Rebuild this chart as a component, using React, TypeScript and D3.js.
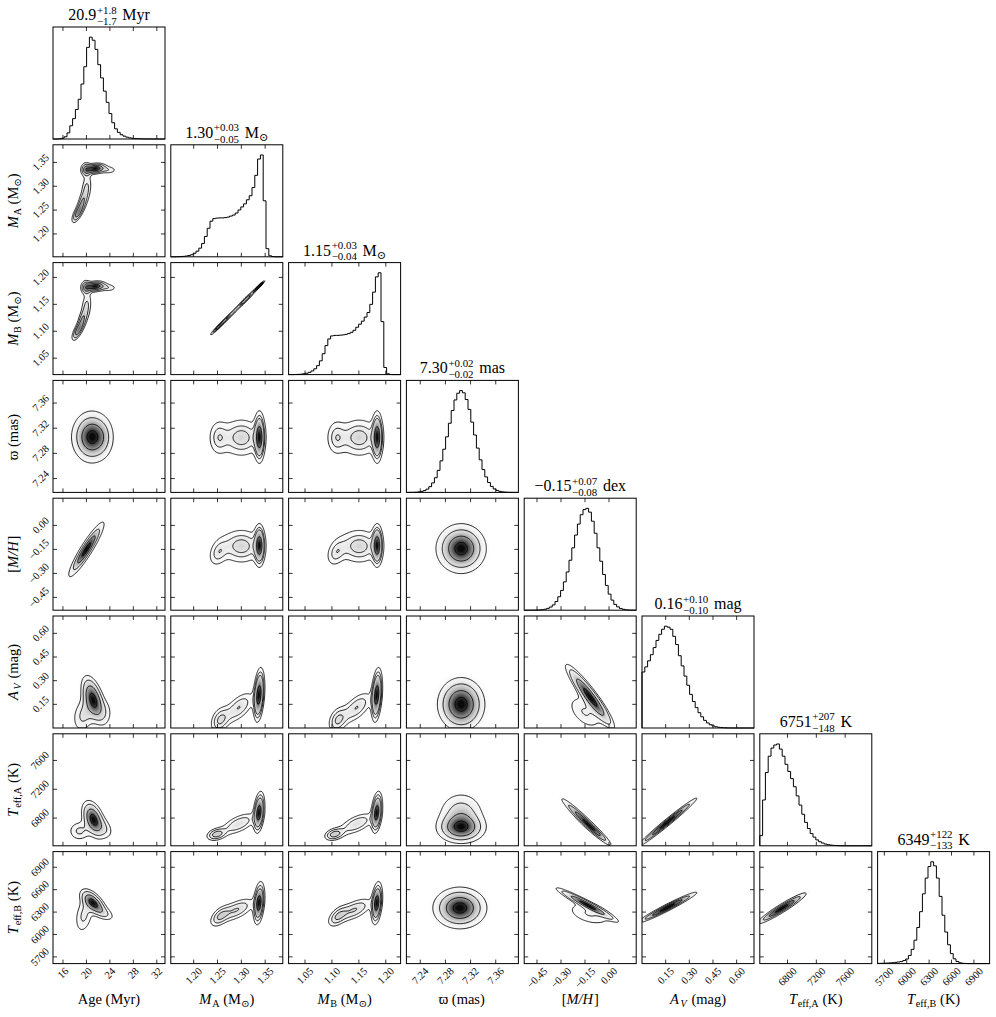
import React, { useMemo } from "react";
import * as d3 from "d3";

// ---------------- data ----------------
// parameter order: Age, M_A, M_B, parallax, [M/H], A_V, Teff_A, Teff_B
const paramRanges: [number, number][] = [
  [14.3, 33.4],
  [1.152, 1.387],
  [1.0195, 1.2275],
  [7.218, 7.396],
  [-0.53, 0.17],
  [0.0, 0.71],
  [6415, 7970],
  [5610, 7110],
];
const paramTicks: number[][] = [
  [16, 20, 24, 28, 32],
  [1.2, 1.25, 1.3, 1.35],
  [1.05, 1.1, 1.15, 1.2],
  [7.24, 7.28, 7.32, 7.36],
  [-0.45, -0.3, -0.15, 0.0],
  [0.15, 0.3, 0.45, 0.6],
  [6800, 7200, 7600],
  [5700, 6000, 6300, 6600, 6900],
];
const tickDecimals = [0, 2, 2, 2, 2, 2, 0, 0];

const histAge = [0, 0, 0.002, 0.008, 0.022, 0.06, 0.13, 0.2, 0.29, 0.39, 0.54, 0.71, 0.9, 1.0, 0.97, 0.88, 0.73, 0.6, 0.47, 0.36, 0.25, 0.16, 0.1, 0.065, 0.042, 0.028, 0.018, 0.011, 0.007, 0.004, 0.003, 0.002, 0.001, 0.001, 0.0005, 0.0003, 0.0002, 0.0001, 0, 0];
const histMA = [0, 0, 0.001, 0.002, 0.004, 0.007, 0.012, 0.02, 0.035, 0.055, 0.085, 0.13, 0.2, 0.28, 0.35, 0.375, 0.38, 0.382, 0.382, 0.385, 0.39, 0.4, 0.41, 0.43, 0.46, 0.49, 0.52, 0.56, 0.6, 0.68, 0.8, 0.96, 1.0, 0.55, 0.08, 0.01, 0.002, 0, 0, 0];
const histMB = [0, 0, 0.001, 0.002, 0.004, 0.008, 0.013, 0.022, 0.036, 0.057, 0.088, 0.135, 0.205, 0.285, 0.35, 0.38, 0.385, 0.385, 0.387, 0.39, 0.395, 0.403, 0.415, 0.435, 0.465, 0.495, 0.525, 0.565, 0.61, 0.69, 0.81, 0.96, 1.0, 0.52, 0.07, 0.008, 0.001, 0, 0, 0];
const histPlx = [0.0002, 0.0005, 0.001, 0.002, 0.005, 0.01, 0.018, 0.032, 0.056, 0.093, 0.144, 0.216, 0.31, 0.424, 0.546, 0.679, 0.804, 0.908, 0.974, 1.0, 0.978, 0.912, 0.815, 0.69, 0.564, 0.435, 0.32, 0.224, 0.152, 0.097, 0.059, 0.034, 0.019, 0.01, 0.005, 0.0024, 0.001, 0.0005, 0.0002, 0.0001];
const histMH = [0, 0.0001, 0.0003, 0.0006, 0.0012, 0.0025, 0.005, 0.0095, 0.018, 0.031, 0.052, 0.085, 0.132, 0.194, 0.278, 0.375, 0.49, 0.612, 0.737, 0.845, 0.937, 0.987, 0.999, 0.962, 0.873, 0.755, 0.612, 0.48, 0.35, 0.243, 0.158, 0.099, 0.057, 0.033, 0.017, 0.0087, 0.004, 0.0018, 0.0008, 0.0003];
const histAV = [0.55, 0.6, 0.66, 0.72, 0.79, 0.86, 0.92, 0.97, 1.0, 0.99, 0.97, 0.9, 0.82, 0.71, 0.61, 0.51, 0.42, 0.33, 0.26, 0.2, 0.15, 0.11, 0.075, 0.05, 0.032, 0.02, 0.012, 0.007, 0.004, 0.002, 0.001, 0.0005, 0.0002, 0, 0, 0, 0, 0, 0, 0];
const histTeffA = [0.1, 0.45, 0.72, 0.88, 0.96, 0.99, 1.0, 0.95, 0.88, 0.8, 0.73, 0.66, 0.58, 0.49, 0.4, 0.31, 0.23, 0.17, 0.12, 0.085, 0.058, 0.04, 0.027, 0.017, 0.011, 0.007, 0.004, 0.002, 0.001, 0, 0, 0, 0, 0, 0, 0, 0, 0, 0, 0];
const histTeffB = [0.002, 0.003, 0.004, 0.005, 0.007, 0.009, 0.012, 0.016, 0.02, 0.03, 0.045, 0.08, 0.14, 0.23, 0.355, 0.51, 0.685, 0.84, 0.953, 1.0, 0.96, 0.84, 0.66, 0.475, 0.31, 0.185, 0.098, 0.047, 0.021, 0.008, 0.003, 0.001, 0, 0, 0, 0, 0, 0, 0, 0];
const histograms = [histAge, histMA, histMB, histPlx, histMH, histAV, histTeffA, histTeffB];

// 2D density components: [x centre, y centre, x spread, y spread, correlation, weight]
const blobsMA_Age = [[21.5, 1.337, 1.0, 0.006, 0.2, 1.0], [23.8, 1.334, 0.9, 0.005, 0, 0.25], [19.9, 1.335, 0.5, 0.009, 0, 0.5], [20.0, 1.295, 0.55, 0.018, 0.3, 0.35], [18.6, 1.245, 0.6, 0.012, 0.7, 0.7], [19.3, 1.268, 0.5, 0.012, 0.5, 0.4]];
const blobsMB_Age = [[21.5, 1.1832, 1.0, 0.0053, 0.2, 1.0], [23.8, 1.1806, 0.9, 0.0044, 0, 0.25], [19.9, 1.1815, 0.5, 0.008, 0, 0.5], [20.0, 1.1461, 0.55, 0.016, 0.3, 0.35], [18.6, 1.1018, 0.6, 0.0106, 0.7, 0.7], [19.3, 1.1222, 0.5, 0.0106, 0.5, 0.4]];
const blobsMB_MA = [[1.338, 1.1841, 0.006, 0.0053, 0.97, 1.0], [1.31, 1.1594, 0.015, 0.0133, 0.975, 0.5], [1.27, 1.124, 0.015, 0.0133, 0.975, 0.4], [1.25, 1.1063, 0.01, 0.0089, 0.97, 0.4]];
const blobsPlx_Age = [[20.9, 7.306, 1.75, 0.021, 0, 1.0], [23.0, 7.305, 1.0, 0.018, 0, 0.12]];
const blobsPlx_MA = [[1.338, 7.306, 0.006, 0.02, 0, 1.0], [1.3, 7.305, 0.025, 0.017, 0, 0.45], [1.252, 7.305, 0.012, 0.016, 0, 0.3]];
const blobsPlx_MB = [[1.1841, 7.306, 0.0053, 0.02, 0, 1.0], [1.1505, 7.305, 0.0221, 0.017, 0, 0.45], [1.108, 7.305, 0.0106, 0.016, 0, 0.3]];
const blobsMH_Age = [[20.0, -0.15, 1.5, 0.085, 0.92, 1.0]];
const blobsMH_MA = [[1.338, -0.125, 0.006, 0.065, 0, 1.0], [1.3, -0.13, 0.025, 0.06, 0, 0.45], [1.252, -0.17, 0.012, 0.05, 0.3, 0.3]];
const blobsMH_MB = [[1.1841, -0.125, 0.0053, 0.065, 0, 1.0], [1.1505, -0.13, 0.0221, 0.06, 0, 0.45], [1.108, -0.17, 0.0106, 0.05, 0.3, 0.3]];
const blobsMH_Plx = [[7.305, -0.145, 0.02, 0.078, 0, 1.0]];
const blobsAV_Age = [[21.2, 0.18, 1.1, 0.08, -0.5, 1.0], [19.5, 0.08, 1.2, 0.07, 0.2, 0.35], [23.5, 0.1, 0.8, 0.06, 0, 0.15]];
const blobsAV_MA = [[1.337, 0.21, 0.006, 0.085, 0.3, 1.0], [1.295, 0.13, 0.02, 0.06, 0.6, 0.35], [1.255, 0.05, 0.012, 0.05, 0.3, 0.35]];
const blobsAV_MB = [[1.1832, 0.21, 0.0053, 0.085, 0.3, 1.0], [1.1461, 0.13, 0.0177, 0.06, 0.6, 0.35], [1.1107, 0.05, 0.0106, 0.05, 0.3, 0.35]];
const blobsAV_Plx = [[7.305, 0.15, 0.02, 0.09, 0, 1.0]];
const blobsAV_MH = [[-0.12, 0.2, 0.075, 0.1, -0.93, 1.0], [-0.15, 0.1, 0.07, 0.07, -0.5, 0.25]];
const blobsTA_Age = [[21.2, 6780, 1.0, 130, -0.4, 1.0], [18.8, 6620, 1.1, 80, 0, 0.3], [23.2, 6650, 0.9, 90, -0.3, 0.2]];
const blobsTA_MA = [[1.337, 6880, 0.006, 140, 0.3, 1.0], [1.295, 6720, 0.022, 90, 0.6, 0.35], [1.248, 6575, 0.012, 50, 0.3, 0.45]];
const blobsTA_MB = [[1.1832, 6880, 0.0053, 140, 0.3, 1.0], [1.1461, 6720, 0.0195, 90, 0.6, 0.35], [1.1045, 6575, 0.0106, 50, 0.3, 0.45]];
const blobsTA_Plx = [[7.305, 6660, 0.02, 110, 0, 1.0], [7.305, 6880, 0.02, 160, 0, 0.5]];
const blobsTA_MH = [[-0.15, 6760, 0.08, 170, -0.97, 1.0], [-0.1, 6640, 0.06, 110, -0.95, 0.4]];
const blobsTA_AV = [[0.16, 6740, 0.1, 180, 0.985, 1.0]];
const blobsTB_Age = [[21.2, 6420, 1.1, 90, -0.6, 1.0], [19.6, 6260, 0.9, 140, 0.3, 0.3], [23.2, 6280, 1.0, 60, -0.5, 0.2]];
const blobsTB_MA = [[1.337, 6420, 0.006, 140, 0.3, 1.0], [1.29, 6330, 0.022, 90, 0.6, 0.4], [1.255, 6240, 0.012, 80, 0.5, 0.35]];
const blobsTB_MB = [[1.1832, 6420, 0.0053, 140, 0.3, 1.0], [1.1417, 6330, 0.0195, 90, 0.6, 0.4], [1.1107, 6240, 0.0106, 80, 0.5, 0.35]];
const blobsTB_Plx = [[7.303, 6355, 0.0215, 140, 0, 1.0]];
const blobsTB_MH = [[-0.14, 6400, 0.085, 100, -0.96, 1.0], [-0.12, 6280, 0.08, 90, -0.4, 0.2]];
const blobsTB_AV = [[0.16, 6360, 0.1, 110, 0.97, 1.0]];
const blobsTB_TA = [[6720, 6350, 180, 110, 0.95, 1.0]];

const panelBlobs: Record<string, number[][]> = {
  "1-0": blobsMA_Age,
  "2-0": blobsMB_Age, "2-1": blobsMB_MA,
  "3-0": blobsPlx_Age, "3-1": blobsPlx_MA, "3-2": blobsPlx_MB,
  "4-0": blobsMH_Age, "4-1": blobsMH_MA, "4-2": blobsMH_MB, "4-3": blobsMH_Plx,
  "5-0": blobsAV_Age, "5-1": blobsAV_MA, "5-2": blobsAV_MB, "5-3": blobsAV_Plx, "5-4": blobsAV_MH,
  "6-0": blobsTA_Age, "6-1": blobsTA_MA, "6-2": blobsTA_MB, "6-3": blobsTA_Plx, "6-4": blobsTA_MH, "6-5": blobsTA_AV,
  "7-0": blobsTB_Age, "7-1": blobsTB_MA, "7-2": blobsTB_MB, "7-3": blobsTB_Plx, "7-4": blobsTB_MH, "7-5": blobsTB_AV, "7-6": blobsTB_TA,
};

type Seg = [string, string];
const axisLabels: Seg[][] = [
  [["Age (Myr)", "r"]],
  [["M", "i"], ["A", "sb"], [" (M", "r"], ["⊙", "sb"], [")", "r"]],
  [["M", "i"], ["B", "sb"], [" (M", "r"], ["⊙", "sb"], [")", "r"]],
  [["ϖ (mas)", "r"]],
  [["[", "r"], ["M/H", "i"], ["]", "r"]],
  [["A", "i"], ["V", "isb"], [" (mag)", "r"]],
  [["T", "i"], ["eff,A", "sb"], [" (K)", "r"]],
  [["T", "i"], ["eff,B", "sb"], [" (K)", "r"]],
];
const titleValues = ["20.9", "1.30", "1.15", "7.30", "−0.15", "0.16", "6751", "6349"];
const titlePlus = ["+1.8", "+0.03", "+0.03", "+0.02", "+0.07", "+0.10", "+207", "+122"];
const titleMinus = ["−1.7", "−0.05", "−0.04", "−0.02", "−0.08", "−0.10", "−148", "−133"];
const titleUnits: Seg[][] = [
  [[" Myr", "r"]],
  [[" M", "r"], ["⊙", "sb"]],
  [[" M", "r"], ["⊙", "sb"]],
  [[" mas", "r"]],
  [[" dex", "r"]],
  [[" mag", "r"]],
  [[" K", "r"]],
  [[" K", "r"]],
];

// ---------------- layout ----------------
const W = 996, H = 1017;
const LEFT0 = 53, TOP0 = 27, STEP = 117.8, SIZE = 112;
const NP = 8;
const GRID = 110;
const LEVELS = [0.118, 0.393, 0.675, 0.865];
const FONT = "'Liberation Serif','DejaVu Serif',serif";
const TICK_FS = 10.5;
const LABEL_FS = 14.5;
const TITLE_FS = 16;

const CW: Record<string, number> = {
  "0": 0.5, "1": 0.5, "2": 0.5, "3": 0.5, "4": 0.5, "5": 0.5, "6": 0.5, "7": 0.5, "8": 0.5, "9": 0.5,
  ".": 0.25, ",": 0.25, "+": 0.564, "−": 0.564, "-": 0.333, " ": 0.25, "(": 0.333, ")": 0.333,
  "[": 0.333, "]": 0.333, "/": 0.278, M: 0.889, A: 0.722, B: 0.667, H: 0.722, K: 0.722, T: 0.611, V: 0.722,
  a: 0.444, d: 0.5, e: 0.444, f: 0.333, g: 0.5, m: 0.778, r: 0.333, s: 0.389, x: 0.5, y: 0.5, "ϖ": 0.75, "⊙": 0.84,
};
function tw(s: string) {
  let w = 0;
  for (const ch of s) w += CW[ch] ?? 0.5;
  return w;
}

function RichText({ segs, x, y, fs, anchor = "middle" }: { segs: Seg[]; x: number; y: number; fs: number; anchor?: string }) {
  const items: any[] = [];
  let total = 0;
  for (const [t, st] of segs) {
    if (st === "st") {
      const [a, b] = t.split("|");
      const w = Math.max(tw(a), tw(b)) * 0.7 * fs;
      items.push({ kind: "st", a, b, off: total + 0.04 * fs });
      total += w + 0.1 * fs;
    } else {
      const small = st === "sb" || st === "isb" || st === "sp";
      const f = small ? 0.7 * fs : fs;
      items.push({ kind: st, t, off: total, f });
      total += tw(t) * f;
    }
  }
  const x0 = anchor === "middle" ? x - total / 2 : x;
  const out: any[] = [];
  items.forEach((it, k) => {
    if (it.kind === "st") {
      out.push(<tspan key={k + "a"} x={x0 + it.off} y={y - 0.4 * fs} fontSize={0.68 * fs}>{it.a}</tspan>);
      out.push(<tspan key={k + "b"} x={x0 + it.off} y={y + 0.3 * fs} fontSize={0.68 * fs}>{it.b}</tspan>);
    } else {
      const italic = it.kind === "i" || it.kind === "isb";
      const dy = it.kind === "sb" || it.kind === "isb" ? 0.22 * fs : it.kind === "sp" ? -0.4 * fs : 0;
      out.push(
        <tspan key={k} x={x0 + it.off} y={y + dy} fontSize={it.f} fontStyle={italic ? "italic" : "normal"}>
          {it.t}
        </tspan>
      );
    }
  });
  return (
    <text fontFamily={FONT} fontSize={fs} fill="#000" style={{ whiteSpace: "pre" }}>
      {out}
    </text>
  );
}

function fmtTick(v: number, dec: number) {
  return d3.format(`.${dec}f`)(v).replace("-", "−");
}

function panelScales(row: number, col: number) {
  const x0 = LEFT0 + col * STEP;
  const y0 = TOP0 + row * STEP;
  const xs = d3.scaleLinear().domain(paramRanges[col]).range([x0, x0 + SIZE]);
  return { x0, y0, xs };
}

function Density2D({ row, col }: { row: number; col: number }) {
  const { x0, y0, xs } = panelScales(row, col);
  const ys = d3.scaleLinear().domain(paramRanges[row]).range([y0 + SIZE, y0]);
  const blobs = panelBlobs[`${row}-${col}`];
  const res = useMemo(() => {
    const [xLo, xHi] = paramRanges[col];
    const [yLo, yHi] = paramRanges[row];
    const vals = new Float64Array(GRID * GRID);
    for (let j = 0; j < GRID; j++) {
      const yv = yHi - ((j + 0.5) / GRID) * (yHi - yLo);
      for (let i = 0; i < GRID; i++) {
        const xv = xLo + ((i + 0.5) / GRID) * (xHi - xLo);
        let d = 0;
        for (const [cx, cy, sx, sy, r, w] of blobs) {
          const dx = (xv - cx) / sx, dy = (yv - cy) / sy;
          const z = (dx * dx - 2 * r * dx * dy + dy * dy) / (1 - r * r);
          d += w * Math.exp(-0.5 * z);
        }
        vals[i + j * GRID] = d;
      }
    }
    const maxV = d3.max(vals) as number;
    const sorted = Array.from(vals).sort((a, b) => b - a);
    const total = d3.sum(sorted);
    const lv: number[] = LEVELS.map(() => maxV);
    let cum = 0, li = 0;
    for (let k = 0; k < sorted.length && li < LEVELS.length; k++) {
      cum += sorted[k];
      while (li < LEVELS.length && cum >= LEVELS[li] * total) {
        lv[li] = sorted[k];
        li++;
      }
    }
    const proj = d3.geoTransform({
      point(x: number, y: number) {
        (this as any).stream.point(xs(xLo + (x / GRID) * (xHi - xLo)), ys(yHi - (y / GRID) * (yHi - yLo)));
      },
    });
    const path = d3.geoPath(proj as any);
    const nb = 24;
    const th = d3.range(nb).map((k) => maxV * (0.08 + (0.92 * k) / nb));
    const bands = d3.contours().size([GRID, GRID]).thresholds(th)(vals as any).map((c) => {
      const frac = Math.min(1, c.value / maxV + 0.5 * 0.92 / nb);
      const g = Math.round(255 * (1 - frac * frac));
      return { d: path(c as any) || "", fill: `rgb(${g},${g},${g})` };
    });
    const lines = d3.contours().size([GRID, GRID]).thresholds(lv.slice().sort((a, b) => a - b))(vals as any).map((c) => path(c as any) || "");
    return { bands, lines };
  }, [row, col]);
  const id = `clip-${row}-${col}`;
  return (
    <g>
      <clipPath id={id}>
        <rect x={x0} y={y0} width={SIZE} height={SIZE} />
      </clipPath>
      <g clipPath={`url(#${id})`}>
        {res.bands.map((b, k) => (
          <path key={k} d={b.d} fill={b.fill} stroke="none" />
        ))}
        {res.lines.map((d, k) => (
          <path key={"l" + k} d={d} fill="none" stroke="#000" strokeWidth={0.85} />
        ))}
      </g>
    </g>
  );
}

function Hist1D({ idx }: { idx: number }) {
  const { x0, y0, xs } = panelScales(idx, idx);
  const vals = histograms[idx];
  const ys = d3.scaleLinear().domain([0, 1.1 * (d3.max(vals) as number)]).range([y0 + SIZE, y0]);
  const [lo, hi] = paramRanges[idx];
  const n = vals.length;
  const pts: [number, number][] = [[lo, 0]];
  vals.forEach((v, k) => {
    const e0 = lo + ((hi - lo) * k) / n;
    const e1 = lo + ((hi - lo) * (k + 1)) / n;
    pts.push([e0, v], [e1, v]);
  });
  pts.push([hi, 0]);
  const line = d3.line<[number, number]>().x((p) => xs(p[0])).y((p) => ys(p[1]));
  return <path d={line(pts) || ""} fill="none" stroke="#000" strokeWidth={1} />;
}

function Frame({ row, col }: { row: number; col: number }) {
  const { x0, y0, xs } = panelScales(row, col);
  const ys = d3.scaleLinear().domain(paramRanges[row]).range([y0 + SIZE, y0]);
  const TL = 4;
  const els: any[] = [];
  paramTicks[col].forEach((t, k) => {
    const x = xs(t);
    els.push(<line key={"xt" + k} x1={x} x2={x} y1={y0 + SIZE} y2={y0 + SIZE - TL} stroke="#000" strokeWidth={0.8} />);
    els.push(<line key={"xb" + k} x1={x} x2={x} y1={y0} y2={y0 + TL} stroke="#000" strokeWidth={0.8} />);
  });
  if (row !== col) {
    paramTicks[row].forEach((t, k) => {
      const y = ys(t);
      els.push(<line key={"yl" + k} x1={x0} x2={x0 + TL} y1={y} y2={y} stroke="#000" strokeWidth={0.8} />);
      els.push(<line key={"yr" + k} x1={x0 + SIZE} x2={x0 + SIZE - TL} y1={y} y2={y} stroke="#000" strokeWidth={0.8} />);
    });
  }
  if (row === NP - 1) {
    paramTicks[col].forEach((t, k) => {
      const s = fmtTick(t, tickDecimals[col]);
      const w = tw(s) * TICK_FS, h = 0.72 * TICK_FS;
      const half = (w + h) / (2 * Math.SQRT2);
      const cx = xs(t), cy = y0 + SIZE + 3 + half;
      els.push(
        <text key={"xl" + k} transform={`translate(${cx},${cy}) rotate(-45)`} textAnchor="middle" dominantBaseline="central" fontFamily={FONT} fontSize={TICK_FS}>
          {s}
        </text>
      );
    });
  }
  if (col === 0 && row > 0) {
    paramTicks[row].forEach((t, k) => {
      const s = fmtTick(t, tickDecimals[row]);
      const w = tw(s) * TICK_FS, h = 0.72 * TICK_FS;
      const half = (w + h) / (2 * Math.SQRT2);
      const cx = x0 - 3 - half, cy = ys(t);
      els.push(
        <text key={"yl2" + k} transform={`translate(${cx},${cy}) rotate(-45)`} textAnchor="middle" dominantBaseline="central" fontFamily={FONT} fontSize={TICK_FS}>
          {s}
        </text>
      );
    });
  }
  return (
    <g>
      <rect x={x0} y={y0} width={SIZE} height={SIZE} fill="none" stroke="#000" strokeWidth={1} />
      {els}
    </g>
  );
}

export default function App() {
  const panels: any[] = [];
  for (let r = 0; r < NP; r++) {
    for (let c = 0; c <= r; c++) {
      panels.push(
        <g key={`${r}-${c}`}>
          {r === c ? <Hist1D idx={r} /> : <Density2D row={r} col={c} />}
          <Frame row={r} col={c} />
        </g>
      );
    }
  }
  const titles = d3.range(NP).map((i) => {
    const { x0, y0 } = panelScales(i, i);
    const segs: Seg[] = [[titleValues[i], "r"], [`${titlePlus[i]}|${titleMinus[i]}`, "st"], ...titleUnits[i]];
    return <RichText key={"t" + i} segs={segs} x={x0 + SIZE / 2} y={y0 - 7} fs={TITLE_FS} />;
  });
  const xLabels = d3.range(NP).map((i) => {
    const { x0 } = panelScales(NP - 1, i);
    return <RichText key={"xl" + i} segs={axisLabels[i]} x={x0 + SIZE / 2} y={1004} fs={LABEL_FS} />;
  });
  const yLabels = d3.range(1, NP).map((i) => {
    const y0 = TOP0 + i * STEP;
    return (
      <g key={"yl" + i} transform={`translate(${18},${y0 + SIZE / 2}) rotate(-90)`}>
        <RichText segs={axisLabels[i]} x={0} y={0} fs={LABEL_FS} />
      </g>
    );
  });
  return (
    <svg width={W} height={H} style={{ position: "absolute", left: 0, top: 0, background: "#fff" }}>
      <rect x={0} y={0} width={W} height={H} fill="#fff" />
      {panels}
      {titles}
      {xLabels}
      {yLabels}
    </svg>
  );
}
